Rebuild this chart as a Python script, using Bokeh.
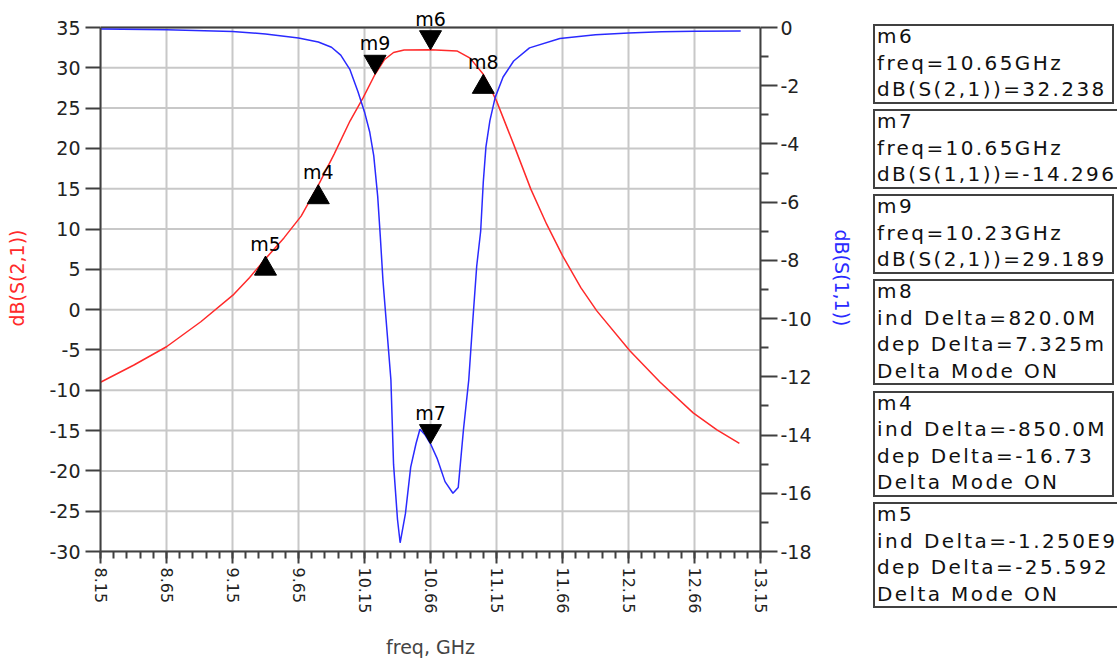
import math
import numpy as np
from bokeh.plotting import figure
from bokeh.models import Range1d, LinearAxis, FixedTicker, ColumnDataSource, Div
from bokeh.layouts import row
from bokeh.core.properties import value
from bokeh.embed import file_html
from bokeh.resources import INLINE

# ---------------- data ----------------
S21_FREQ = [8.15, 8.40, 8.65, 8.91, 9.16, 9.28, 9.41, 9.54, 9.67, 9.79, 9.92, 10.04, 10.14,
            10.23, 10.30, 10.37, 10.45, 10.65, 10.85, 10.95, 11.05, 11.15, 11.28, 11.41,
            11.53, 11.65, 11.79, 11.91, 12.16, 12.39, 12.64, 12.82, 12.99]
S21_DB = [-9.0, -6.9, -4.6, -1.5, 1.9, 4.0, 6.5, 8.9, 11.6, 15.1, 19.3, 23.4, 26.3,
          29.2, 31.0, 31.9, 32.2, 32.24, 32.1, 31.2, 29.2, 25.9, 20.5, 14.95,
          10.6, 6.7, 2.7, -0.15, -5.1, -9.0, -12.8, -14.9, -16.6]

S11_FREQ = [8.15, 8.65, 9.15, 9.40, 9.65, 9.80, 9.90, 9.97, 10.04, 10.10, 10.15, 10.19,
            10.22, 10.25, 10.27, 10.29, 10.32, 10.35, 10.37, 10.40, 10.42, 10.46, 10.50,
            10.54, 10.57, 10.61, 10.65, 10.70, 10.76, 10.82, 10.86, 10.90, 10.94, 10.97,
            11.00, 11.03, 11.05, 11.07, 11.10, 11.14, 11.20, 11.28, 11.40, 11.63, 11.90,
            12.15, 12.40, 12.65, 13.00]
S11_DB = [-0.05, -0.08, -0.14, -0.22, -0.36, -0.50, -0.68, -0.95, -1.45, -2.2, -2.9, -3.6,
          -4.4, -5.8, -7.2, -8.7, -10.4, -12.1, -15.0, -16.9, -17.7, -16.7, -15.1,
          -14.3, -13.8, -14.0, -14.3, -14.8, -15.6, -16.0, -15.8, -13.8, -12.1, -10.1,
          -8.2, -7.0, -5.3, -4.1, -3.2, -2.4, -1.7, -1.15, -0.7, -0.38, -0.25,
          -0.19, -0.15, -0.13, -0.12]

# markers
MK_NAMES = ["m6", "m7", "m9"]
MK_FREQ = [10.65, 10.65, 10.23]
MK_VAL = [32.238, -14.296, 29.189]
MK_TRACE = ["S21", "S11", "S21"]

# delta markers: reference marker, ind delta (Hz), dep delta
DM_NAMES = ["m8", "m4", "m5"]
DM_REF = ["m9", "m6", "m6"]
DM_IND = [820.0e6, -850.0e6, -1.250e9]
DM_DEP = [7.325e-3, -16.73, -25.592]
DM_IND_TXT = ["820.0M", "-850.0M", "-1.250E9"]
DM_DEP_TXT = ["7.325m", "-16.73", "-25.592"]

INFO_ORDER = ["m6", "m7", "m9", "m8", "m4", "m5"]

X_TICKS = [8.15, 8.65, 9.15, 9.65, 10.15, 10.65, 11.15, 11.65, 12.15, 12.65, 13.15]
X_TICK_LABELS = ["8.15", "8.65", "9.15", "9.65", "10.15", "10.66", "11.15", "11.66",
                 "12.15", "12.66", "13.15"]
Y_LEFT_TICKS = [-30, -25, -20, -15, -10, -5, 0, 5, 10, 15, 20, 25, 30, 35]
Y_RIGHT_TICKS = [-18, -16, -14, -12, -10, -8, -6, -4, -2, 0]

FONT = "DejaVu Sans"
RED = "#ff2a2a"
BLUE = "#2a2aff"
AX = "#404040"
GRID = "#c8c8c8"

# ---------------- layout numbers (pixels) ----------------
W, H = 860, 661
BL, BR, BB = 100, 100, 110
AXIS_TOP = 27            # pixel row of the top of the axes box
BT = 4                   # frame top (frame extends above the axes box for marker labels)
BOX_H = H - AXIS_TOP - BB
ppu_l = BOX_H / (Y_LEFT_TICKS[-1] - Y_LEFT_TICKS[0])
ppu_r = BOX_H / (Y_RIGHT_TICKS[-1] - Y_RIGHT_TICKS[0])
ext_l = (AXIS_TOP - BT) / ppu_l
ext_r = (AXIS_TOP - BT) / ppu_r

p = figure(width=W, height=H,
           x_range=Range1d(X_TICKS[0], X_TICKS[-1]),
           y_range=Range1d(Y_LEFT_TICKS[0], Y_LEFT_TICKS[-1] + ext_l),
           output_backend="svg", toolbar_location=None,
           min_border_left=BL, min_border_right=BR, min_border_top=BT, min_border_bottom=BB)
p.extra_y_ranges = {"s11": Range1d(Y_RIGHT_TICKS[0], Y_RIGHT_TICKS[-1] + ext_r)}
p.background_fill_color = "white"
p.border_fill_color = "white"
p.outline_line_color = None
p.grid.visible = False

minor_x = [round(v, 2) for v in np.arange(X_TICKS[0], X_TICKS[-1] + 0.001, 0.1)]
xt = FixedTicker(ticks=X_TICKS, minor_ticks=minor_x)
xax = p.xaxis[0]
xax.ticker = xt
xax.bounds = (X_TICKS[0], X_TICKS[-1])
xax.major_label_overrides = {t: l for t, l in zip(X_TICKS, X_TICK_LABELS)}
xax.major_label_orientation = -math.pi / 2
xax.axis_label = "freq, GHz"
xax.major_tick_out = 12
xax.minor_tick_out = 7
xax.major_label_standoff = 4
xax.axis_label_standoff = 20
xax.major_label_text_font_size = "16px"

yax = p.yaxis[0]
yax.ticker = FixedTicker(ticks=Y_LEFT_TICKS)
yax.bounds = (Y_LEFT_TICKS[0], Y_LEFT_TICKS[-1])
yax.major_label_overrides = {t: str(t) for t in Y_LEFT_TICKS}
yax.axis_label = "dB(S(2,1))"
yax.axis_label_text_color = RED
yax.major_tick_out = 15
yax.minor_tick_line_color = None
yax.major_label_standoff = 5
yax.axis_label_standoff = 18
yax.major_label_text_font_size = "19px"

rax = LinearAxis(y_range_name="s11",
                 ticker=FixedTicker(ticks=Y_RIGHT_TICKS, minor_ticks=list(range(-17, 0, 2))))
rax.bounds = (Y_RIGHT_TICKS[0], Y_RIGHT_TICKS[-1])
rax.major_label_overrides = {t: str(t) for t in Y_RIGHT_TICKS}
rax.axis_label = "dB(S(1,1))"
rax.axis_label_text_color = BLUE
rax.major_tick_out = 17
rax.minor_tick_out = 8
rax.major_label_standoff = 3
rax.axis_label_standoff = 16
rax.major_label_text_font_size = "19px"
p.add_layout(rax, "right")

for ax in [xax, yax, rax]:
    ax.axis_line_color = AX
    ax.axis_line_width = 2
    ax.major_tick_line_color = AX
    ax.major_tick_line_width = 2
    ax.minor_tick_line_width = 2
    ax.major_tick_in = 0
    ax.minor_tick_in = 0
    ax.major_label_text_font = FONT
    ax.major_label_text_color = "#222222"
    ax.axis_label_text_font = FONT
    ax.axis_label_text_font_style = "normal"
    ax.axis_label_text_font_size = "19px"
xax.minor_tick_line_color = AX
rax.minor_tick_line_color = AX

# grid lines restricted to the axes box
nx, ny = len(X_TICKS), len(Y_LEFT_TICKS)
p.segment(x0=X_TICKS, y0=[Y_LEFT_TICKS[0]] * nx, x1=X_TICKS, y1=[Y_LEFT_TICKS[-1]] * nx,
          line_color=GRID, line_width=2)
p.segment(x0=[X_TICKS[0]] * ny, y0=Y_LEFT_TICKS, x1=[X_TICKS[-1]] * ny, y1=Y_LEFT_TICKS,
          line_color=GRID, line_width=2)
# top edge of the axes box
p.segment(x0=[X_TICKS[0]], y0=[Y_LEFT_TICKS[-1]], x1=[X_TICKS[-1]], y1=[Y_LEFT_TICKS[-1]],
          line_color=AX, line_width=2)

p.line(S21_FREQ, S21_DB, line_color=RED, line_width=1.5)
p.line(S11_FREQ, S11_DB, line_color=BLUE, line_width=1.5, y_range_name="s11")

# marker positions (regular + delta markers)
pos = {n: (f, v, t) for n, f, v, t in zip(MK_NAMES, MK_FREQ, MK_VAL, MK_TRACE)}
for n, r, di, dd in zip(DM_NAMES, DM_REF, DM_IND, DM_DEP):
    rf, rv, rt = pos[r]
    pos[n] = (rf + di / 1e9, rv + dd, rt)

MSIZE = 22
TRI_H = MSIZE * math.sqrt(3) / 2
TIP = TRI_H * 2 / 3           # px from marker centre to tip
LAB_UP = 12.5                 # label centre above tip, up-pointing marker
LAB_DOWN = TRI_H + 12         # label centre above tip, down-pointing marker
ppu = {"S21": ppu_l, "S11": ppu_r}
rng = {"S21": "default", "S11": "s11"}
up_names = set(DM_NAMES)

for trace in ["S21", "S11"]:
    for up in [True, False]:
        names = [n for n in pos if pos[n][2] == trace and ((n in up_names) == up)]
        if not names:
            continue
        xs = [pos[n][0] for n in names]
        ys = [pos[n][1] for n in names]
        u = ppu[trace]
        if up:
            cy = [y - TIP / u for y in ys]
            ly = [y + LAB_UP / u for y in ys]
            mk = "triangle"
        else:
            cy = [y + TIP / u for y in ys]
            ly = [y + LAB_DOWN / u for y in ys]
            mk = "inverted_triangle"
        src = ColumnDataSource(dict(x=xs, cy=cy, ly=ly, name=names))
        p.scatter("x", "cy", source=src, marker=mk, size=MSIZE, fill_color="black",
                  line_color="black", y_range_name=rng[trace])
        p.text("x", "ly", text="name", source=src, text_font=value(FONT),
               text_font_size="19px", text_align="center", text_baseline="middle",
               text_color="black", y_range_name=rng[trace])

# ---------------- marker readout panel ----------------
def fmt_lines(n):
    if n in MK_NAMES:
        i = MK_NAMES.index(n)
        lab = "dB(S(2,1))" if MK_TRACE[i] == "S21" else "dB(S(1,1))"
        return [n, f"freq={MK_FREQ[i]:.2f}GHz", f"{lab}={MK_VAL[i]:.3f}"]
    i = DM_NAMES.index(n)
    return [n, f"ind Delta={DM_IND_TXT[i]}", f"dep Delta={DM_DEP_TXT[i]}", "Delta Mode ON"]

PANEL_W = 1117 - W
LINE_H = 26.5
GAP = 5.5
top = 24.0
boxes = []
for n in INFO_ORDER:
    lines = fmt_lines(n)
    h = LINE_H * len(lines)
    long = max(len(s) for s in lines) >= 18
    bw = 262 if long else 241
    boxes.append(
        f"<div style='position:absolute;left:13px;top:{top:.1f}px;width:{bw}px;"
        f"height:{h:.1f}px;box-sizing:border-box;border:2px solid {AX};'>"
        f"<div style='position:absolute;left:2px;top:-3px;line-height:{LINE_H}px;"
        f"white-space:nowrap;'>" + "<br>".join(lines) + "</div></div>")
    top += h + GAP

html = (f"<div style='position:relative;width:{PANEL_W}px;height:{H}px;overflow:hidden;"
        f"font-family:\"{FONT}\";font-size:20px;letter-spacing:2.4px;color:#111111;"
        f"background:white;'>" + "".join(boxes) + "</div>")
panel = Div(text=html, width=PANEL_W, height=H, margin=(0, 0, 0, 0))

layout = row(p, panel)
open("out.html", "w").write(file_html(layout, INLINE))
